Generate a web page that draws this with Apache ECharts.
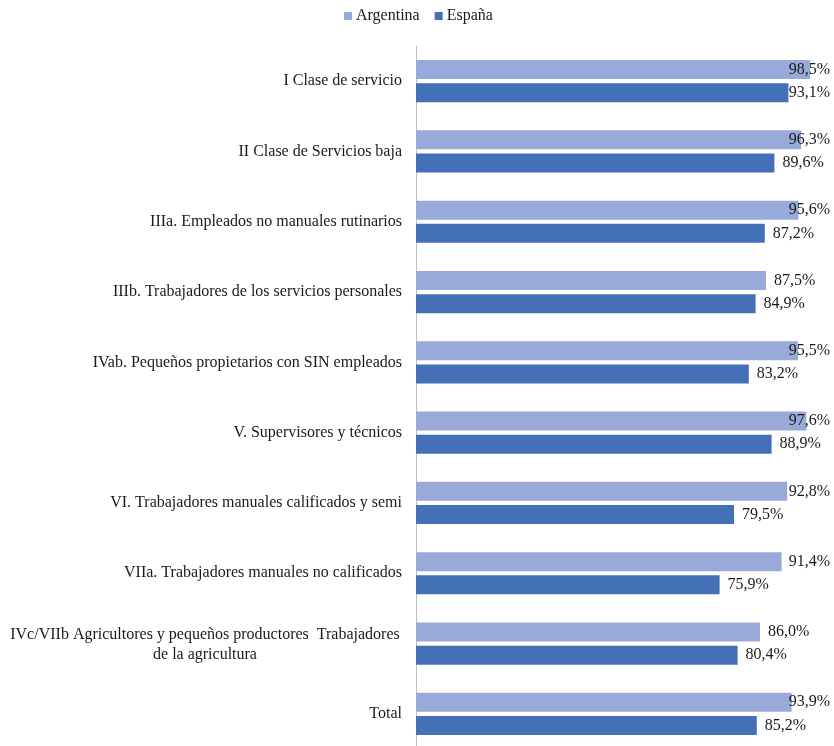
<!DOCTYPE html>
<html>
<head>
<meta charset="utf-8">
<script src="https://cdn.jsdelivr.net/npm/echarts@6/dist/echarts.min.js"></script>
<style>
  html, body { margin: 0; padding: 0; background: #fff; }
  #chart { width: 834px; height: 746px; }
</style>
</head>
<body>
<div id="chart"></div>
<script>
// Occupational classes, listed top to bottom
const categories = [
  'I Clase de servicio',
  'II Clase de Servicios baja',
  'IIIa. Empleados no manuales rutinarios',
  'IIIb. Trabajadores de los servicios personales',
  'IVab. Pequeños propietarios con SIN empleados',
  'V. Supervisores y técnicos',
  'VI. Trabajadores manuales calificados y semi',
  'VIIa. Trabajadores manuales no calificados',
  'IVc/VIIb Agricultores y pequeños productores  Trabajadores\nde la agricultura',
  'Total'
];

// Percentages per country
const argentina = [98.5, 96.3, 95.6, 87.5, 95.5, 97.6, 92.8, 91.4, 86.0, 93.9];
const espana = [93.1, 89.6, 87.2, 84.9, 83.2, 88.9, 79.5, 75.9, 80.4, 85.2];

const seriesNames = ['Argentina', 'España'];

const FONT = '"Liberation Serif", "Times New Roman", serif';
const TEXT_COLOR = '#1a1a1a';
const RIGHT_LIMIT = 830;

const chart = echarts.init(document.getElementById('chart'), null, { renderer: 'canvas' });

const fmtPct = v => v.toFixed(1).replace('.', ',') + '%';

function barSeries(name, data, color) {
  return {
    name: name,
    type: 'bar',
    data: data,
    barWidth: 19,
    barGap: '22%',
    itemStyle: { color: color },
    label: {
      show: true,
      position: 'right',
      distance: 8,
      formatter: p => fmtPct(p.value),
      fontFamily: FONT,
      fontSize: 16,
      color: TEXT_COLOR
    },
    // keep value labels inside the chart's right edge
    labelLayout: function (p) {
      const r = p.labelRect;
      if (r.x + r.width > RIGHT_LIMIT) {
        return {
          x: RIGHT_LIMIT - r.width,
          y: r.y + r.height / 2,
          align: 'left',
          verticalAlign: 'middle'
        };
      }
      return {};
    }
  };
}

const lineStyle = {
  width: 394, align: 'center', fontFamily: FONT, fontSize: 16,
  color: TEXT_COLOR, lineHeight: 20, padding: [3, 0, 0, 0]
};

chart.setOption({
  animation: false,
  backgroundColor: '#fff',
  legend: {
    data: seriesNames,
    left: 339,
    top: 3,
    icon: 'rect',
    itemWidth: 8,
    itemHeight: 8,
    itemGap: 15,
    textStyle: { fontFamily: FONT, fontSize: 16, color: TEXT_COLOR, padding: [0, 0, 0, -1] }
  },
  grid: {
    left: 416, top: 46, width: 400, height: 703,
    containLabel: false,
    outerBoundsMode: 'none'
  },
  xAxis: {
    type: 'value',
    min: 0,
    max: 100,
    show: false
  },
  yAxis: {
    type: 'category',
    data: categories,
    inverse: true,
    axisLine: { show: true, lineStyle: { color: '#BFBFBF', width: 1 } },
    axisTick: { show: false },
    splitLine: { show: false },
    axisLabel: {
      margin: 14,
      fontFamily: FONT,
      fontSize: 16,
      color: TEXT_COLOR,
      lineHeight: 20,
      // wrapped labels: block right-aligned to the axis, each line centred
      formatter: function (v) {
        if (v.indexOf('\n') < 0) return v;
        return v.split('\n').map(l => '{c|' + l + '}').join('\n');
      },
      rich: {
        c: lineStyle
      }
    }
  },
  series: [
    barSeries(seriesNames[0], argentina, '#98AAD9'),
    barSeries(seriesNames[1], espana, '#4470B7')
  ]
});
</script>
</body>
</html>
